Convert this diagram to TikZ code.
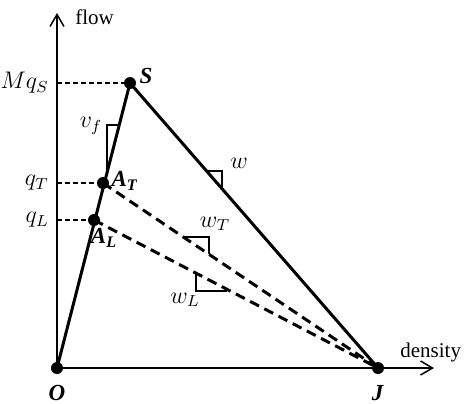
\documentclass[tikz,border=0pt]{standalone}
\usepackage{amsmath,amssymb}
\usepackage{fontspec}
\setmainfont{Liberation Serif}
\usetikzlibrary{calc,arrows.meta,positioning}
\newcommand{\bi}[1]{\textbf{\textit{#1}}}

\begin{document}
\begin{tikzpicture}[x=0.5pt, y=-0.5pt, every node/.style={font=\fontsize{10.5}{12}\selectfont, inner sep=1pt},
  >={Straight Barb[length=6pt, width=7pt]},
  axis/.style={line width=0.75pt},
  guide/.style={line width=0.6pt, dash pattern=on 2.5pt off 1.5pt},
  branch/.style={line width=1.5pt},
  wave/.style={line width=1.5pt, dash pattern=on 5pt off 3pt},
  slope/.style={line width=0.75pt},
  mlab/.style={font=\fontsize{11.5}{13}\selectfont},
  plab/.style={font=\fontsize{11.5}{13}\selectfont},
  dot/.style={circle, fill, inner sep=0pt, minimum size=6pt}]
  \useasboundingbox (0,0) rectangle (464,403);
  % points
  \node[dot] (O) at (57,368) {};
  \node[dot] (S) at (130,83) {};
  \node[dot] (J) at (378,368) {};
  \node[dot] (AT) at (103,183) {};
  \node[dot] (AL) at (94,220) {};
  \coordinate (ytip) at (57,13);
  \coordinate (xtip) at (434,368);
  % axes
  \draw[axis,->] (O.center) -- (ytip);
  \draw[axis,->] (O.center) -- (xtip);
  \node[anchor=west] (flow) at (73,17) {flow};
  \node[anchor=west] (density) at (398,352) {density};
  % fundamental diagram
  \draw[branch] (O.center) -- (S.center) -- (J.center);
  \draw[wave] (AT.center) -- (J.center);
  \draw[wave] (AL.center) -- (J.center);
  % guide lines
  \draw[guide] (O |- S) -- (S);
  \draw[guide] (O |- AT) -- (AT);
  \draw[guide] (O |- AL) -- (AL);
  \node[mlab, left=3pt of {O |- S}] (MqS) {$Mq_S$};
  \node[mlab, left=3pt of {O |- AT}] (qT) {$q_T$};
  \node[mlab, left=3pt of {O |- AL}] (qL) {$q_L$};
  % slope triangles
  \draw[slope] (107,173) -- (107,125) -- (119,125);
  \draw[slope] (207,171) -- (222,171) -- (222,188);
  \draw[slope] (183,237) -- (209,237) -- (209,254);
  \draw[slope] (196,273) -- (196,291) -- (227,291);
  \node[mlab] (vf) at (91,126) {$v_f$};
  \node[mlab] (w) at (239,163) {$w$};
  \node[mlab] (wT) at (215,224) {$w_T$};
  \node[mlab] (wL) at (185,300) {$w_L$};
  % point labels
  \node[plab] (Slab) at (146,76) {\bi{S}};
  \node[plab] (ATlab) at (125,181) {\bi{A}\textsubscript{\bi{T}}};
  \node[plab] (ALlab) at (104,238) {\bi{A}\textsubscript{\bi{L}}};
  \node[plab] (Olab) at (57,393) {\bi{O}};
  \node[plab] (Jlab) at (378,393) {\bi{J}};
\end{tikzpicture}
\end{document}
